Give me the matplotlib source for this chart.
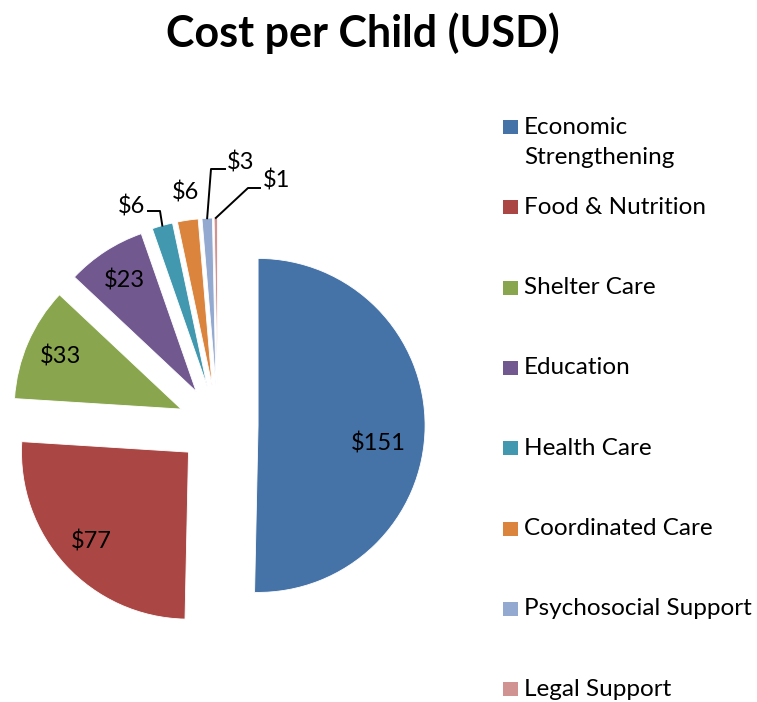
import matplotlib.pyplot as plt
from matplotlib.patches import Rectangle
import numpy as np

plt.rcParams['font.family'] = ['Lato', 'DejaVu Sans']

categories = ['Economic\nStrengthening', 'Food & Nutrition', 'Shelter Care', 'Education',
              'Health Care', 'Coordinated Care', 'Psychosocial Support', 'Legal Support']
costs = [151, 77, 33, 23, 6, 6, 3, 1]
colors = ['#4572A7', '#AA4643', '#89A54E', '#71588F', '#4198AF', '#DB843D', '#93A9CF', '#D19392']

explode = 0.24
W, H = 757, 702
# pie centre and radius in pixels (top-left origin)
cx, cy, R = 218, 425, 167

fig = plt.figure(figsize=(W / 100, H / 100), dpi=100)
left_px, right_px, top_px, bot_px = 0, 490, 80, 702
ax = fig.add_axes([left_px / W, 1 - bot_px / H, (right_px - left_px) / W, (bot_px - top_px) / H])

wedges, _ = ax.pie(costs, colors=colors, explode=[explode] * len(costs), startangle=90,
                   counterclock=False, radius=1.0, center=(0, 0),
                   wedgeprops=dict(linewidth=0.6, edgecolor='white'))
ax.set_aspect('auto')
ax.set_xlim((left_px - cx) / R, (right_px - cx) / R)
ax.set_ylim((cy - bot_px) / R, (cy - top_px) / R)
ax.axis('off')

# mid angles of slices (math convention)
frac = np.array(costs) / sum(costs)
cum = np.cumsum(frac) - frac / 2
mids = np.radians(90 - cum * 360)

fs = 17
# labels inside the big slices
for i in range(4):
    off = explode * np.array([np.cos(mids[i]), np.sin(mids[i])])
    r = 0.79
    ang = mids[i]
    if i == 0:
        r, ang = 0.73, mids[i] - np.radians(8)
    pos = off + r * np.array([np.cos(ang), np.sin(ang)])
    ax.text(pos[0], pos[1], f'${costs[i]}', ha='center', va='center', fontsize=fs)


def px(x, y):
    return (x - cx) / R, (cy - y) / R


def tip(i):
    return (1 + explode) * np.cos(mids[i]), (1 + explode) * np.sin(mids[i])


# small slices: leader lines
# Health Care
t = tip(4)
e1, e2 = px(160, 211), px(148, 211)
ax.plot([t[0], e1[0], e2[0]], [t[1], e1[1], e2[1]], color='black', lw=1.4)
ax.text(*px(145, 206), f'${costs[4]}', ha='right', va='center', fontsize=fs)
# Coordinated Care
ax.text(*px(186, 193), f'${costs[5]}', ha='center', va='center', fontsize=fs)
# Psychosocial Support
t = tip(6)
e1, e2 = px(211, 169), px(225, 169)
ax.plot([t[0], e1[0], e2[0]], [t[1], e1[1], e2[1]], color='black', lw=1.4)
ax.text(*px(227, 163), f'${costs[6]}', ha='left', va='center', fontsize=fs)
# Legal Support
t = tip(7)
e1, e2 = px(248, 188), px(260, 188)
ax.plot([t[0], e1[0], e2[0]], [t[1], e1[1], e2[1]], color='black', lw=1.4)
ax.text(*px(263, 180), f'${costs[7]}', ha='left', va='center', fontsize=fs)

# title
fig.text(363 / W, 1 - 33 / H, 'Cost per Child (USD)', ha='center', va='center',
         fontsize=31, fontweight='bold')

# legend
lfs = 17.5
for k, (lab, col) in enumerate(zip(categories, colors)):
    y = 127 + k * 80.3
    fig.patches.append(Rectangle((503 / W, 1 - (y + 7) / H), 15 / W, 14 / H,
                                 transform=fig.transFigure, facecolor=col, edgecolor='none'))
    fig.text(524 / W, 1 - y / H, lab.split('\n')[0], ha='left', va='center', fontsize=lfs)
    if '\n' in lab:
        fig.text(524 / W, 1 - (y + 31) / H, lab.split('\n')[1], ha='left', va='center', fontsize=lfs)

fig.savefig('out.png', dpi=100)
